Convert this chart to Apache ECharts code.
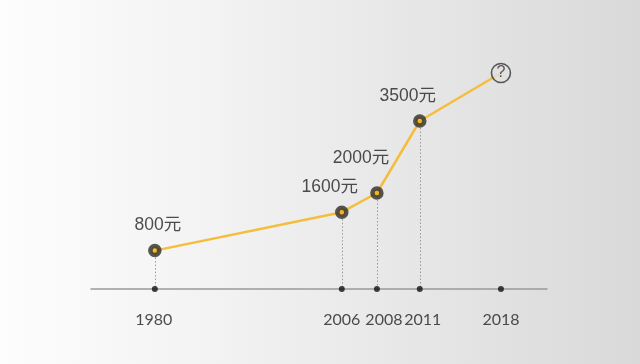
<!DOCTYPE html>
<html>
<head>
<meta charset="utf-8">
<script src="https://cdn.jsdelivr.net/npm/echarts@6/dist/echarts.min.js"></script>
<style>
html,body{margin:0;padding:0;}
#c{width:640px;height:364px;background:linear-gradient(to right,#fdfdfd 0%,#f2f2f2 35%,#d9d9d9 100%);}
</style>
</head>
<body>
<div id="c"></div>
<script>
// Data
const years = ['1980', '2006', '2008', '2011', '2018'];
// position of each year along the (non-proportional) timeline, in axis units 0..100
const timeline = [14, 55, 62.7, 72.1, 89.9];
const values = [800, 1600, 2000, 3500, null];
const valueLabels = ['800元', '1600元', '2000元', '3500元', '?'];
const unknownValue = 4500; // estimated height of the "?" mark

const chart = echarts.init(document.getElementById('c'), null, {renderer: 'canvas'});

const known = [];
years.forEach((y, i) => { if (values[i] != null) known.push([timeline[i], values[i]]); });
const lineData = known.concat([[timeline[4], unknownValue]]);
const labelOffsets = [[3, 0], [-12, 0], [-16, -9], [-12, 1]];
const yearOffsets = [[-1, 0], [0, 0], [7, 0], [3, 0], [0, 0]];

const option = {
  animation: false,
  backgroundColor: 'transparent',
  grid: {left: 91, right: 93, top: 49, bottom: 75},
  xAxis: {
    type: 'value', min: 0, max: 100,
    axisLine: {show: true, onZero: false, lineStyle: {color: '#999', width: 1.5}},
    axisTick: {show: false}, axisLabel: {show: false}, splitLine: {show: false}
  },
  yAxis: {
    type: 'value', min: 0, max: 5000, show: false, splitLine: {show: false}
  },
  series: [
    {
      type: 'line',
      data: lineData,
      symbol: 'none',
      lineStyle: {color: '#f5bd3c', width: 2.5},
      z: 2,
      markLine: {
        silent: true,
        symbol: 'none',
        label: {show: false},
        lineStyle: {color: '#999', type: [1.5, 2], width: 1},
        data: known.map(p => [{coord: [p[0], p[1]]}, {coord: [p[0], 0]}])
      }
    },
    {
      type: 'scatter',
      data: known.map((p, i) => ({
        value: p,
        label: {
          show: true, position: 'top', distance: 10, offset: labelOffsets[i],
          formatter: valueLabels[i], color: '#222', fontSize: 17.5,
          fontFamily: '"Liberation Sans", "Noto Sans CJK SC", sans-serif'
        }
      })),
      symbol: 'circle',
      symbolSize: 9,
      itemStyle: {color: '#f2b50f', borderColor: '#2e2e2e', borderWidth: 4.5},
      z: 5
    },
    {
      type: 'scatter',
      data: [[timeline[4], unknownValue]],
      symbol: 'circle',
      symbolSize: 19,
      itemStyle: {color: '#e1e1e1', borderColor: '#333', borderWidth: 1.6},
      label: {show: true, position: 'inside', formatter: valueLabels[4], color: '#333',
        fontSize: 16, fontFamily: '"Liberation Sans", sans-serif'},
      z: 5
    },
    {
      type: 'scatter',
      data: timeline.map((t, i) => ({
        value: [t, 0],
        label: {show: true, position: 'bottom', distance: 20, offset: yearOffsets[i], formatter: years[i]}
      })),
      symbol: 'circle',
      symbolSize: 6,
      itemStyle: {color: '#111'},
      label: {color: '#222', fontSize: 16, fontFamily: 'Lato, sans-serif'},
      z: 6
    }
  ]
};
chart.setOption(option);
</script>
</body>
</html>
